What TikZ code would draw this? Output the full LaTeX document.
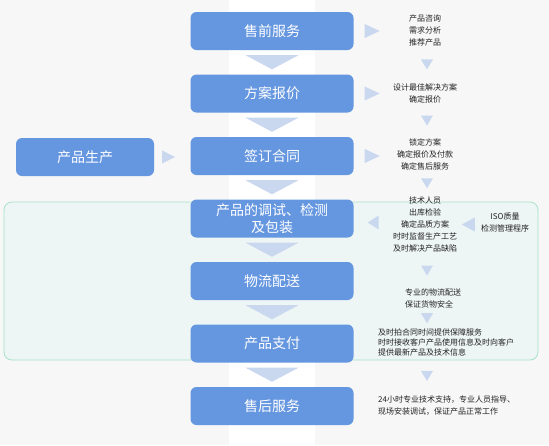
\documentclass[tikz,border=0pt]{standalone}
\usepackage{fontspec}
\setmainfont{Noto Sans CJK SC}
\usetikzlibrary{calc}
\definecolor{boxblue}{HTML}{6596E0}
\definecolor{chevblue}{HTML}{C9D8EF}
\definecolor{panelfill}{HTML}{EEF6F5}
\definecolor{panelline}{HTML}{A8E2C8}
\definecolor{bggray}{HTML}{F7F7F7}
\definecolor{textgray}{HTML}{222222}
\begin{document}
\begin{tikzpicture}[x=1pt, y=-1pt,
  stage/.style={fill=boxblue, text=white, rounded corners=6pt, minimum width=163pt, minimum height=38pt, align=center, inner sep=0pt, font=\fontsize{14}{17}\selectfont},
  note/.style={text=textgray, align=center, inner sep=0pt, font=\fontsize{8}{12}\selectfont},
  chev/.style={fill=chevblue}]
\useasboundingbox (0,0) rectangle (549,445);
\fill[bggray] (0,0) rectangle (549,445);
\fill[white] (229,0) rectangle (315,445);
\filldraw[fill=panelfill, draw=panelline, line width=0.8pt, rounded corners=8pt] (4,202) rectangle (538,360);

% main column
\node[stage] (presale) at (272,31) {售前服务};
\node[stage] (quote) at (272,93.5) {方案报价};
\node[stage] (contract) at (272,156) {签订合同};
\node[stage] (testing) at (272,218.5) {产品的调试、检测\\及包装};
\node[stage] (logistics) at (272,281) {物流配送};
\node[stage] (payment) at (272,343.5) {产品支付};
\node[stage] (aftersale) at (272,406) {售后服务};
\node[stage, minimum width=138pt] (production) at (85,157) {产品生产};

% notes
\node[note] (presaleinfo) at (425,30) {产品咨询\\需求分析\\推荐产品};
\node[note] (quoteinfo) at (425,93) {设计最佳解决方案\\确定报价};
\node[note] (contractinfo) at (425,154) {锁定方案\\确定报价及付款\\确定售后服务};
\node[note] (testinginfo) at (425,224.5) {技术人员\\出库检验\\确定品质方案\\时时监督生产工艺\\及时解决产品缺陷};
\node[note] (isoinfo) at (505,222.5) {ISO质量\\检测管理程序};
\node[note, align=left, anchor=west] (logisticsinfo) at (405,298.5) {专业的物流配送\\保证货物安全};
\node[note, align=left, anchor=west, font=\fontsize{8}{10}\selectfont] (paymentinfo) at (378,342) {及时拍合同时间提供保障服务\\时时接收客户产品使用信息及时向客户\\提供最新产品及技术信息};
\node[note, align=left, anchor=west] (aftersaleinfo) at (378,406) {24小时专业技术支持，专业人员指导、\\现场安装调试，保证产品正常工作};

% chevrons down the main column
\foreach \a/\b in {presale/quote, quote/contract, contract/testing, testing/logistics, logistics/payment, payment/aftersale}
  \fill[chev] ($(\a.south)+(-26.5,5)$) -- ($(\a.south)+(26.5,5)$) -- ($(\b.north)+(0,-5)$) -- cycle;

% small chevrons down the notes
\coordinate (colx) at (427,0);
\foreach \a/\b in {presaleinfo/quoteinfo, quoteinfo/contractinfo, contractinfo/testinginfo, testinginfo/logisticsinfo, logisticsinfo/paymentinfo, paymentinfo/aftersaleinfo} {
  \coordinate (mid) at ($(\a.south)!0.5!(\b.north)$);
  \fill[chev] (mid -| colx) ++(-6,-5) -- ++(12,0) -- ++(-6,10) -- cycle;
}

% side arrows
\foreach \s in {presale, quote, contract}
  \fill[chev] ($(\s.east)+(11,-7)$) -- ($(\s.east)+(11,7)$) -- ($(\s.east)+(26,0)$) -- cycle;
\fill[chev] ($(production.east)+(8,-6.5)$) -- ($(production.east)+(8,6.5)$) -- ($(production.east)+(21,0)$) -- cycle;
\fill[chev] ($(testing.east)+(25,-3)$) -- ($(testing.east)+(25,11)$) -- ($(testing.east)+(14,4)$) -- cycle;
\fill[chev] ($(isoinfo.west)+(-6,-5)$) -- ($(isoinfo.west)+(-6,9)$) -- ($(isoinfo.west)+(-19,2)$) -- cycle;
\end{tikzpicture}
\end{document}
